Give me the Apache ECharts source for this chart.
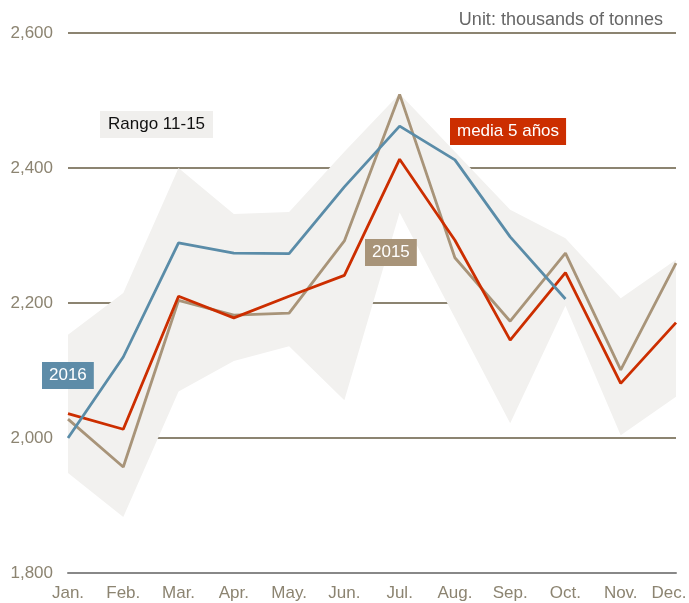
<!DOCTYPE html>
<html>
<head>
<meta charset="utf-8">
<script src="https://cdn.jsdelivr.net/npm/echarts@6/dist/echarts.min.js"></script>
<style>
  html, body { margin: 0; padding: 0; background: #fff; }
  #chart { width: 689px; height: 603px; }
</style>
</head>
<body>
<div id="chart"></div>
<script>
var months = ['Jan.', 'Feb.', 'Mar.', 'Apr.', 'May.', 'Jun.', 'Jul.', 'Aug.', 'Sep.', 'Oct.', 'Nov.', 'Dec.'];

// valores (miles de toneladas)
var y2016 = [2000, 2120, 2289, 2274, 2273, 2372, 2462, 2412, 2298, 2206];
var y2015 = [2028, 1957, 2204, 2182, 2185, 2292, 2509, 2267, 2173, 2274, 2101, 2259];
var media5 = [2036, 2013, 2210, 2178, 2210, 2241, 2413, 2293, 2145, 2245, 2081, 2171];
var rangoMin = [1948, 1883, 2069, 2114, 2136, 2056, 2334, 2178, 2022, 2196, 2004, 2061];
var rangoMax = [2153, 2215, 2400, 2332, 2335, 2424, 2510, 2424, 2338, 2296, 2207, 2264];
var yTicks = [1800, 2000, 2200, 2400, 2600];

var font = 'Liberation Sans, Arial, sans-serif';
var axisColor = '#8c8471';

var rangoDiff = rangoMax.map(function (v, i) { return v - rangoMin[i]; });

var chart = echarts.init(document.getElementById('chart'));

chart.setOption({
  animation: false,
  grid: { left: 68, right: 13, top: 33, bottom: 30, containLabel: false, outerBoundsMode: 'none' },
  xAxis: {
    type: 'category',
    data: months,
    boundaryGap: false,
    axisLine: { show: true, lineStyle: { color: '#888888', width: 2 } },
    axisTick: { show: false },
    axisLabel: {
      color: axisColor, fontSize: 17, fontFamily: font, margin: 12, interval: 0,
      // el último mes queda pegado al borde derecho
      formatter: function (v, i) { return i === months.length - 1 ? '{last|' + v + '}' : v; },
      rich: { last: { color: axisColor, fontSize: 17, fontFamily: font, padding: [0, 14, 0, 0] } }
    }
  },
  yAxis: {
    type: 'value',
    min: yTicks[0],
    max: yTicks[yTicks.length - 1],
    interval: 200,
    axisLine: { show: false },
    axisTick: { show: false },
    axisLabel: {
      color: axisColor, fontSize: 17, fontFamily: font, margin: 15,
      formatter: function (v) { return v.toLocaleString('en-US'); }
    },
    splitLine: { lineStyle: { color: axisColor, width: 2 } }
  },
  series: [
    {
      name: 'min', type: 'line', stack: 'rango', data: rangoMin,
      symbol: 'none', lineStyle: { opacity: 0 }, silent: true
    },
    {
      name: 'Rango 11-15', type: 'line', stack: 'rango', data: rangoDiff,
      symbol: 'none', lineStyle: { opacity: 0 },
      areaStyle: { color: '#f2f1ef', opacity: 1 }, silent: true
    },
    {
      name: '2015', type: 'line', data: y2015, symbol: 'none',
      lineStyle: { color: '#a89479', width: 2.8 }
    },
    {
      name: 'media 5 años', type: 'line', data: media5, symbol: 'none',
      lineStyle: { color: '#cc2e00', width: 2.8 }
    },
    {
      name: '2016', type: 'line', data: y2016, symbol: 'none',
      lineStyle: { color: '#5a8ca8', width: 2.8 }
    }
  ],
  graphic: [
    {
      type: 'text', right: 26, top: 11, z: 100,
      style: { text: 'Unit: thousands of tonnes', fill: '#666666', font: '18px ' + font }
    },
    {
      type: 'text', left: 100, top: 111, z: 100,
      style: {
        text: 'Rango 11-15', fill: '#111111', font: '17px ' + font,
        backgroundColor: '#f0efed', padding: [5, 8, 5, 8]
      }
    },
    {
      type: 'text', left: 450, top: 118, z: 100,
      style: {
        text: 'media 5 años', fill: '#ffffff', font: '17px ' + font,
        backgroundColor: '#cc2e00', padding: [5, 7, 5, 7]
      }
    },
    {
      type: 'text', left: 365, top: 239, z: 100,
      style: {
        text: '2015', fill: '#ffffff', font: '17px ' + font,
        backgroundColor: '#a89479', padding: [5, 7, 5, 7]
      }
    },
    {
      type: 'text', left: 42, top: 362, z: 100,
      style: {
        text: '2016', fill: '#ffffff', font: '17px ' + font,
        backgroundColor: '#5e8ca8', padding: [5, 7, 5, 7]
      }
    }
  ]
});
</script>
</body>
</html>
